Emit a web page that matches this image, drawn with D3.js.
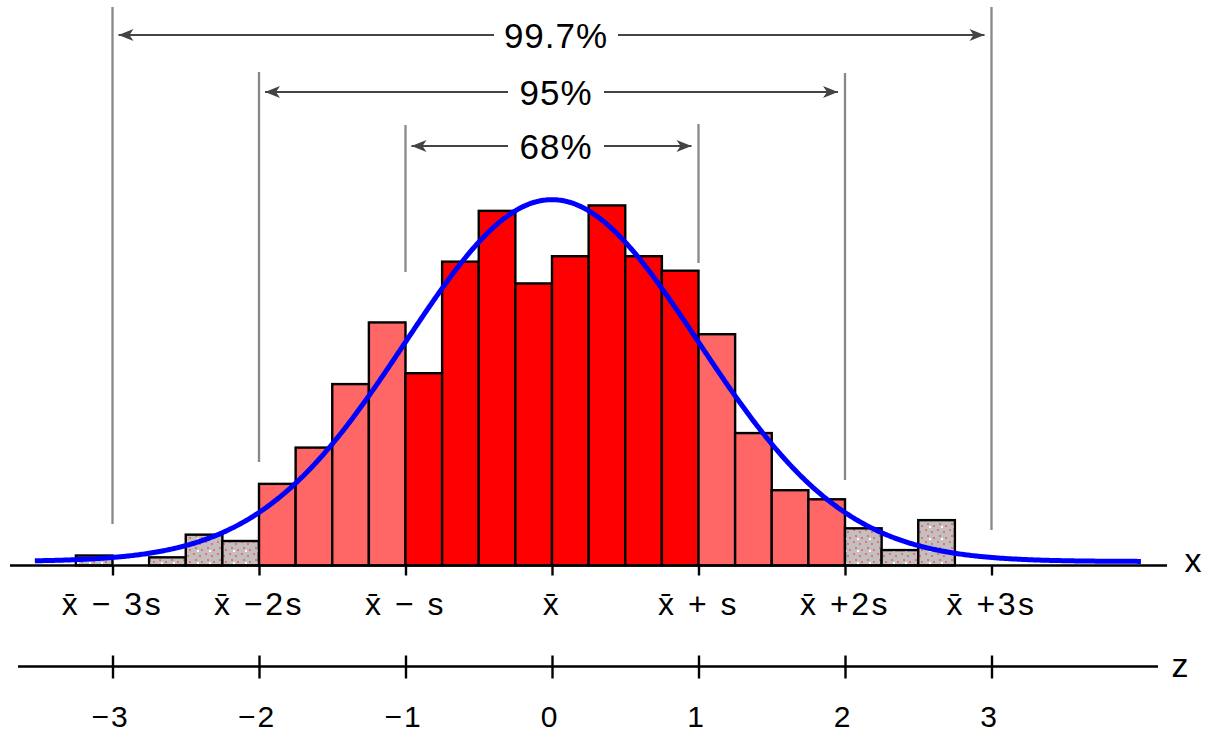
<!DOCTYPE html>
<html>
<head>
<meta charset="utf-8">
<script src="https://cdn.jsdelivr.net/npm/d3@7"></script>
<style>
body { margin: 0; background: #fff; }
svg { display: block; font-family: "Liberation Sans", Arial, sans-serif; }
</style>
</head>
<body>
<svg class="chart" width="1205" height="734"></svg>
<script>
// histogram bins, left edge in z units (bin width 0.25), and relative frequency density
var binStarts = [-3.25, -3, -2.75, -2.5, -2.25, -2, -1.75, -1.5, -1.25, -1, -0.75, -0.5,
                 -0.25, 0, 0.25, 0.5, 0.75, 1, 1.25, 1.5, 1.75, 2, 2.25, 2.5];
var binDensity = [0.011, 0, 0.009, 0.034, 0.027, 0.090, 0.130, 0.200, 0.268, 0.212, 0.335, 0.391,
                  0.311, 0.341, 0.397, 0.341, 0.325, 0.255, 0.146, 0.083, 0.073, 0.041, 0.017, 0.050];
var binWidth = 0.25;

var zTicks = [-3, -2, -1, 0, 1, 2, 3];
var xLabels = ["x\u0304 \u2212 3s", "x\u0304 \u22122s", "x\u0304 \u2212 s", "x\u0304", "x\u0304 + s", "x\u0304 +2s", "x\u0304 +3s"];
var zLabels = ["\u22123", "\u22122", "\u22121", "0", "1", "2", "3"];

var spanK = [1, 2, 3];
var spanLabels = ["68%", "95%", "99.7%"];

// layout
var baseY = 565.5, zAxisY = 666.5;
var curveLift = 4;
var guideTop = {"-1": 125, "1": 124, "-2": 72, "2": 73, "-3": 7, "3": 7};
var guideBottom = {"-1": 272, "1": 263, "-2": 462, "2": 480, "-3": 524, "3": 530};
var spanY = [146, 92, 35];
var textHalf = [48, 48, 62];

var svg = d3.select(".chart");

var x = d3.scaleLinear().domain([-2, 2]).range([259, 845]);
var y = d3.scaleLinear().domain([0, 0.4]).range([baseY, baseY - 0.4 * 907]);

// speckled grey fill for tails
var pat = svg.append("defs").append("pattern")
	.attr("id", "speckle")
	.attr("patternUnits", "userSpaceOnUse")
	.attr("width", 12).attr("height", 12);
pat.append("rect").attr("width", 12).attr("height", 12).attr("fill", "#c0c0c0");
[[1, 1, "#ff6666"], [7, 3, "#ff6666"], [3, 7, "#ff6666"], [9, 9, "#ff6666"], [5, 10, "#ffffff"]].forEach(function(p) {
	pat.append("rect").attr("x", p[0]).attr("y", p[1]).attr("width", 2).attr("height", 2).attr("fill", p[2]);
});

var bins = binStarts.map(function(s, i) { return {x0: s, x1: s + binWidth, v: binDensity[i]}; })
	.filter(function(d) { return d.v > 0; });

function binFill(d) {
	var c = Math.abs((d.x0 + d.x1) / 2);
	if (c < 1) return "#ff0000";
	if (c < 2) return "#ff6666";
	return "url(#speckle)";
}

// guide lines
svg.append("g").selectAll("line")
	.data([-3, -2, -1, 1, 2, 3])
	.enter().append("line")
	.attr("x1", function(d) { return x(d); })
	.attr("x2", function(d) { return x(d); })
	.attr("y1", function(d) { return guideTop[d]; })
	.attr("y2", function(d) { return guideBottom[d]; })
	.attr("stroke", "#888")
	.attr("stroke-width", 2.3);

// bars
svg.append("g").selectAll("rect")
	.data(bins)
	.enter().append("rect")
	.attr("x", function(d) { return x(d.x0); })
	.attr("y", function(d) { return y(d.v); })
	.attr("width", function(d) { return x(d.x1) - x(d.x0); })
	.attr("height", function(d) { return y(0) - y(d.v); })
	.attr("fill", binFill)
	.attr("stroke", "#000")
	.attr("stroke-width", 2.4);

// x axis (raw data scale)
svg.append("line")
	.attr("x1", 10).attr("x2", 1167)
	.attr("y1", baseY).attr("y2", baseY)
	.attr("stroke", "#000").attr("stroke-width", 2.4);

var xAxis = svg.append("g")
	.attr("transform", "translate(0," + baseY + ")")
	.call(d3.axisBottom(x).tickValues(zTicks).tickSize(10).tickSizeOuter(0).tickFormat(""));
xAxis.select(".domain").remove();
xAxis.selectAll(".tick line").attr("stroke", "#000").attr("stroke-width", 2.4);

svg.append("g").selectAll("text")
	.data(zTicks)
	.enter().append("text")
	.attr("x", function(d) { return x(d); })
	.attr("y", 615)
	.attr("text-anchor", "middle")
	.attr("font-size", 32)
	.attr("letter-spacing", 2.5)
	.text(function(d, i) { return xLabels[i]; });

svg.append("text")
	.attr("x", 1193).attr("y", 572)
	.attr("text-anchor", "middle")
	.attr("font-size", 34)
	.text("x");

// normal curve
var zs = d3.range(-3.53, 4.03, 0.01);
var line = d3.line()
	.x(function(d) { return x(d); })
	.y(function(d) { return y(Math.exp(-d * d / 2) / Math.sqrt(2 * Math.PI)) - curveLift; });
svg.append("path")
	.datum(zs)
	.attr("d", line)
	.attr("fill", "none")
	.attr("stroke", "#0000ff")
	.attr("stroke-width", 5);

// z axis
svg.append("line")
	.attr("x1", 18).attr("x2", 1158)
	.attr("y1", zAxisY).attr("y2", zAxisY)
	.attr("stroke", "#000").attr("stroke-width", 2.4);

var zAxis = svg.append("g")
	.attr("transform", "translate(0," + zAxisY + ")")
	.call(d3.axisBottom(x).tickValues(zTicks).tickSize(12).tickSizeOuter(0).tickFormat(""));
zAxis.select(".domain").remove();
zAxis.selectAll(".tick line").attr("y1", -11).attr("stroke", "#000").attr("stroke-width", 2.4);

svg.append("g").selectAll("text")
	.data(zTicks)
	.enter().append("text")
	.attr("x", function(d) { return x(d) - 2; })
	.attr("y", 727)
	.attr("text-anchor", "middle")
	.attr("font-size", 30)
	.attr("letter-spacing", 2)
	.text(function(d, i) { return zLabels[i]; });

svg.append("text")
	.attr("x", 1180).attr("y", 677)
	.attr("text-anchor", "middle")
	.attr("font-size", 34)
	.text("z");

// percentage spans with arrows
var cx = x(0) + 4;
var spans = svg.append("g");
spanK.forEach(function(k, i) {
	var yy = spanY[i];
	var left = x(-k) + 6, right = x(k) - 7;
	spans.append("line")
		.attr("x1", left).attr("x2", cx - textHalf[i])
		.attr("y1", yy).attr("y2", yy)
		.attr("stroke", "#444").attr("stroke-width", 2);
	spans.append("line")
		.attr("x1", cx + textHalf[i]).attr("x2", right)
		.attr("y1", yy).attr("y2", yy)
		.attr("stroke", "#444").attr("stroke-width", 2);
	spans.append("path")
		.attr("d", "M" + left + "," + yy + "l15,-6l-4,6l4,6z")
		.attr("fill", "#444");
	spans.append("path")
		.attr("d", "M" + right + "," + yy + "l-15,-6l4,6l-4,6z")
		.attr("fill", "#444");
	spans.append("text")
		.attr("x", cx).attr("y", yy + 13)
		.attr("text-anchor", "middle")
		.attr("font-size", 35)
		.attr("letter-spacing", 1)
		.text(spanLabels[i]);
});
</script>
</body>
</html>
